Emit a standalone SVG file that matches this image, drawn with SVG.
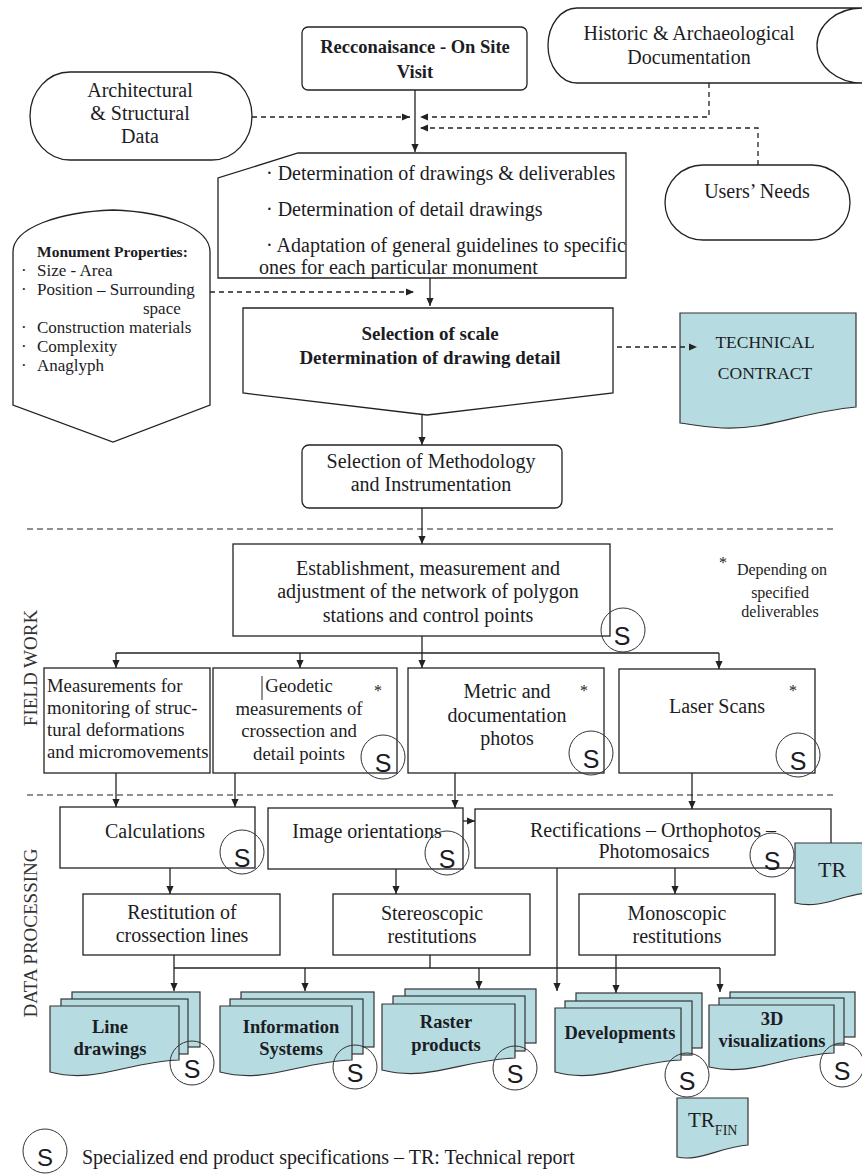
<svg xmlns="http://www.w3.org/2000/svg" width="862" height="1175" viewBox="0 0 862 1175">
<style>
.b{fill:#fff;stroke:#222;stroke-width:1.3}
.d{fill:#b6dce1;stroke:#333;stroke-width:1.2}
.c{fill:none;stroke:#333;stroke-width:1}
.t{font-family:"Liberation Serif",serif;font-size:20px;fill:#1c1c24;text-anchor:middle}
.f{font-size:18.7px}
.sm{font-size:16px}
.bd{font-weight:bold}
.l{text-anchor:start}
.s{font-family:"Liberation Sans",sans-serif;font-size:25px;fill:#1c1c24;text-anchor:middle}
.ln{stroke:#222;stroke-width:1.3;fill:none}
.da{stroke-dasharray:5 4}
.sep{stroke:#222;stroke-width:1.2;stroke-dasharray:6 4}
</style>
<defs>
<marker id="ah" viewBox="0 0 10 10" refX="10" refY="5" markerWidth="9" markerHeight="8" markerUnits="userSpaceOnUse" orient="auto"><path d="M0,0.5 L10,5 L0,9.5 Z" fill="#222"/></marker>
</defs>

<g id="recon"><rect class="b" x="302" y="27" width="225" height="63" rx="6"/>
<text class="t bd" x="415" y="53" style="font-size:18.5px">Recconaisance - On Site</text><text class="t bd" x="415" y="78" style="font-size:18.5px">Visit</text></g>

<g id="historic"><path class="b" d="M577,8 H862 A45,37.5 0 0 0 862,83 H577 A29,37.5 0 0 1 577,8 Z"/>
<text class="t" x="689" y="40">Historic &amp; Archaeological</text><text class="t" x="689" y="64">Documentation</text></g>

<g id="architectural"><rect class="b" x="30" y="72" width="222" height="88" rx="40" ry="44"/>
<text class="t" x="140" y="97">Architectural</text><text class="t" x="140" y="120">&amp; Structural</text><text class="t" x="140" y="143">Data</text></g>

<g id="users"><rect class="b" x="665" y="165" width="185" height="75" rx="38" ry="37.5"/>
<text class="t" x="757" y="198">Users’ Needs</text></g>

<g id="determination"><polygon class="b" points="298,153 626,153 626,278 218,278 218,178"/>
<text class="t l" x="266" y="180">· Determination of drawings &amp; deliverables</text>
<text class="t l" x="266" y="216">· Determination of detail drawings</text>
<text class="t l" x="266" y="252">· Adaptation of general guidelines to specific</text>
<text class="t l" x="259" y="274">ones for each particular monument</text></g>

<g id="monument"><path class="b" d="M13,405 V252 C13,228 58,212 113,210 C168,212 210,228 210,252 V405 L113,442 Z"/>
<text class="t l bd" x="37" y="257" style="font-size:15.5px">Monument Properties:</text>
<g class="t l" style="font-size:17px">
<text x="21" y="276">·</text><text x="37" y="276">Size - Area</text>
<text x="21" y="295">·</text><text x="37" y="295">Position – Surrounding</text>
<text x="143" y="314">space</text>
<text x="21" y="333">·</text><text x="37" y="333">Construction materials</text>
<text x="21" y="352">·</text><text x="37" y="352">Complexity</text>
<text x="21" y="371">·</text><text x="37" y="371">Anaglyph</text></g></g>

<g id="scale"><polygon class="b" points="243,308 613,308 613,393 427,415 243,393"/>
<text class="t bd" x="430" y="340" style="font-size:19px">Selection of scale</text><text class="t bd" x="430" y="364" style="font-size:19px">Determination of drawing detail</text></g>

<g id="contract"><path class="d" d="M680,313 H856 V407 C800,412 770,430 722,428 C700,427 690,424 680,423 Z"/>
<text class="t" x="765" y="348" style="font-size:17.5px">TECHNICAL</text><text class="t" x="765" y="379" style="font-size:17.5px">CONTRACT</text></g>

<g id="methodology"><rect class="b" x="302" y="445" width="260" height="63" rx="7"/>
<text class="t" x="431" y="468">Selection of Methodology</text><text class="t" x="431" y="491">and Instrumentation</text></g>

<g id="separators"><line class="sep" x1="27" y1="529" x2="837" y2="529"/><line class="sep" x1="27" y1="795" x2="837" y2="795"/></g>
<text class="t" transform="translate(30,668) rotate(-90)" dominant-baseline="central" style="font-size:19px;fill:#333">FIELD WORK</text>
<text class="t" transform="translate(30,933) rotate(-90)" dominant-baseline="central" style="font-size:19px;fill:#333">DATA PROCESSING</text>

<g id="establishment"><rect class="b" x="233" y="544" width="377" height="92"/>
<text class="t" x="428" y="575">Establishment, measurement and</text><text class="t" x="428" y="598">adjustment of the network of polygon</text><text class="t" x="428" y="622">stations and control points</text>
<circle class="c" cx="623" cy="630" r="22"/><text class="s" x="622" y="645">S</text></g>

<g id="note"><text class="t sm" x="723" y="568">*</text><text class="t sm" x="782" y="575">Depending on</text><text class="t sm" x="780" y="598">specified</text><text class="t sm" x="780" y="617">deliverables</text></g>

<g id="monitoring"><rect class="b" x="44" y="668" width="166" height="105"/>
<g class="t f l"><text x="47" y="692">Measurements for</text><text x="47" y="714">monitoring of struc-</text><text x="47" y="736">tural deformations</text><text x="47" y="758">and micromovements</text></g></g>

<g id="geodetic"><rect class="b" x="213" y="668" width="184" height="105"/>
<line x1="262" y1="676" x2="262" y2="700" stroke="#222" stroke-width="1"/>
<g class="t f"><text x="299" y="692">Geodetic</text><text x="299" y="715">measurements of</text><text x="299" y="737">crossection and</text><text x="299" y="760">detail points</text></g>
<text class="t sm" x="378" y="696">*</text>
<circle class="c" cx="383" cy="757" r="22"/><text class="s" x="383" y="772">S</text></g>

<g id="metric"><rect class="b" x="408" y="668" width="196" height="105"/>
<g class="t"><text x="507" y="698">Metric and</text><text x="507" y="722">documentation</text><text x="507" y="745">photos</text></g>
<text class="t sm" x="584" y="696">*</text>
<circle class="c" cx="591" cy="753" r="22"/><text class="s" x="591" y="768">S</text></g>

<g id="laser"><rect class="b" x="619" y="669" width="196" height="104"/>
<text class="t" x="717" y="713">Laser Scans</text>
<text class="t sm" x="793" y="696">*</text>
<circle class="c" cx="798" cy="755" r="22"/><text class="s" x="798" y="770">S</text></g>

<g id="calculations"><rect class="b" x="60" y="807" width="195" height="61"/>
<text class="t" x="155" y="838">Calculations</text>
<circle class="c" cx="242" cy="852" r="22"/><text class="s" x="242" y="867">S</text></g>

<g id="orientations"><rect class="b" x="268" y="808" width="195" height="61"/>
<text class="t" x="367" y="838">Image orientations</text>
<circle class="c" cx="447" cy="853" r="22"/><text class="s" x="447" y="868">S</text></g>

<g id="rectifications"><rect class="b" x="475" y="809" width="356" height="59"/>
<text class="t" x="653" y="837">Rectifications – Orthophotos –</text><text class="t" x="654" y="858">Photomosaics</text>
<circle class="c" cx="772" cy="855" r="22"/><text class="s" x="772" y="870">S</text></g>

<g id="tr"><path class="d" d="M795,843 H870 V893 C845,893 822,910 795,903 Z"/>
<text class="t" x="832" y="877" style="font-size:22px">TR</text></g>

<g id="restitution"><rect class="b" x="83" y="894" width="197" height="61"/>
<text class="t" x="182" y="919">Restitution of</text><text class="t" x="182" y="942">crossection lines</text></g>

<g id="stereoscopic"><rect class="b" x="333" y="894" width="197" height="61"/>
<text class="t" x="432" y="920">Stereoscopic</text><text class="t" x="432" y="943">restitutions</text></g>

<g id="monoscopic"><rect class="b" x="579" y="894" width="196" height="61"/>
<text class="t" x="677" y="920">Monoscopic</text><text class="t" x="677" y="943">restitutions</text></g>

<g id="connectors">
<line class="ln" x1="415" y1="90" x2="415" y2="152" marker-end="url(#ah)"/>
<line class="ln da" x1="252" y1="117" x2="410" y2="117" marker-end="url(#ah)"/>
<polyline class="ln da" points="709,83 709,117 420,117" marker-end="url(#ah)"/>
<polyline class="ln da" points="758,165 758,128 420,128" marker-end="url(#ah)"/>
<line class="ln" x1="430" y1="278" x2="430" y2="306" marker-end="url(#ah)"/>
<line class="ln da" x1="210" y1="292" x2="414" y2="292" marker-end="url(#ah)"/>
<line class="ln da" x1="617" y1="347" x2="697" y2="347" marker-end="url(#ah)"/>
<line class="ln" x1="422" y1="415" x2="422" y2="445" marker-end="url(#ah)"/>
<line class="ln" x1="422" y1="508" x2="422" y2="544" marker-end="url(#ah)"/>
<line class="ln" x1="422" y1="636" x2="422" y2="668" marker-end="url(#ah)"/>
<line class="ln" x1="116" y1="653" x2="719" y2="653"/>
<line class="ln" x1="116" y1="653" x2="116" y2="668" marker-end="url(#ah)"/>
<line class="ln" x1="300" y1="653" x2="300" y2="668" marker-end="url(#ah)"/>
<line class="ln" x1="719" y1="653" x2="719" y2="669" marker-end="url(#ah)"/>
<line class="ln" x1="116" y1="773" x2="116" y2="807" marker-end="url(#ah)"/>
<line class="ln" x1="235" y1="773" x2="235" y2="807" marker-end="url(#ah)"/>
<line class="ln" x1="455" y1="773" x2="455" y2="808" marker-end="url(#ah)"/>
<line class="ln" x1="463" y1="821" x2="475" y2="821" marker-end="url(#ah)"/>
<line class="ln" x1="692" y1="773" x2="692" y2="809" marker-end="url(#ah)"/>
<line class="ln" x1="170" y1="868" x2="170" y2="894" marker-end="url(#ah)"/>
<line class="ln" x1="396" y1="869" x2="396" y2="894" marker-end="url(#ah)"/>
<line class="ln" x1="675" y1="868" x2="675" y2="894" marker-end="url(#ah)"/>
<line class="ln" x1="557" y1="868" x2="557" y2="991" marker-end="url(#ah)"/>
<line class="ln" x1="174" y1="968" x2="720" y2="968"/>
<line class="ln" x1="174" y1="955" x2="174" y2="991" marker-end="url(#ah)"/>
<line class="ln" x1="430" y1="955" x2="430" y2="968"/>
<line class="ln" x1="305" y1="968" x2="305" y2="991" marker-end="url(#ah)"/>
<line class="ln" x1="479" y1="968" x2="479" y2="989" marker-end="url(#ah)"/>
<line class="ln" x1="616" y1="955" x2="616" y2="993" marker-end="url(#ah)"/>
<line class="ln" x1="720" y1="968" x2="720" y2="992" marker-end="url(#ah)"/>
</g>

<g id="linedrawings"><rect class="d" x="72" y="992" width="128" height="55"/><rect class="d" x="61" y="999" width="127" height="55"/>
<path class="d" d="M50,1006 H179 V1060 C127,1062 95,1084 50,1072 Z"/>
<text class="t bd" x="110" y="1033" style="font-size:18.5px">Line</text><text class="t bd" x="110" y="1055" style="font-size:18.5px">drawings</text>
<circle class="c" cx="192" cy="1063" r="22"/><text class="s" x="192" y="1078">S</text></g>

<g id="infosystems"><rect class="d" x="241" y="992" width="133" height="55"/><rect class="d" x="230" y="999" width="133" height="55"/>
<path class="d" d="M220,1006 H352 V1060 C299,1062 266,1084 220,1072 Z"/>
<text class="t bd" x="291" y="1033" style="font-size:18.5px">Information</text><text class="t bd" x="291" y="1055" style="font-size:18.5px">Systems</text>
<circle class="c" cx="355" cy="1067" r="22"/><text class="s" x="355" y="1082">S</text></g>

<g id="raster"><rect class="d" x="405" y="989" width="131" height="54"/><rect class="d" x="393" y="996" width="132" height="55"/>
<path class="d" d="M382,1004 H515 V1058 C462,1060 429,1082 382,1070 Z"/>
<text class="t bd" x="446" y="1028" style="font-size:18.5px">Raster</text><text class="t bd" x="446" y="1051" style="font-size:18.5px">products</text>
<circle class="c" cx="515" cy="1068" r="22"/><text class="s" x="515" y="1083">S</text></g>

<g id="developments"><rect class="d" x="576" y="993" width="126" height="55"/><rect class="d" x="565" y="1001" width="127" height="54"/>
<path class="d" d="M555,1008 H681 V1060 C631,1062 599,1084 555,1072 Z"/>
<text class="t bd" x="620" y="1039" style="font-size:18.5px">Developments</text>
<circle class="c" cx="687" cy="1075" r="22"/><text class="s" x="687" y="1090">S</text></g>

<g id="visualizations"><rect class="d" x="730" y="992" width="125" height="45"/><rect class="d" x="719" y="998" width="125" height="47"/>
<path class="d" d="M709,1005 H834 V1053 C784,1055 753,1077 709,1067 Z"/>
<text class="t bd" x="772" y="1025" style="font-size:18.5px">3D</text><text class="t bd" x="772" y="1047" style="font-size:18.5px">visualizations</text>
<circle class="c" cx="842" cy="1065" r="22"/><text class="s" x="842" y="1080">S</text></g>

<g id="trfin"><path class="d" d="M677,1098 H748 V1145 C720,1147 700,1162 677,1157 Z"/>
<text class="t l" x="688" y="1127" style="font-size:21px">TR<tspan style="font-size:14px" dy="8">FIN</tspan></text></g>

<g id="legend"><circle class="c" cx="45" cy="1151" r="22"/><text class="s" x="45" y="1166" style="font-size:24px">S</text>
<text class="t l" x="82" y="1164">Specialized end product specifications – TR: Technical report</text></g>
</svg>
